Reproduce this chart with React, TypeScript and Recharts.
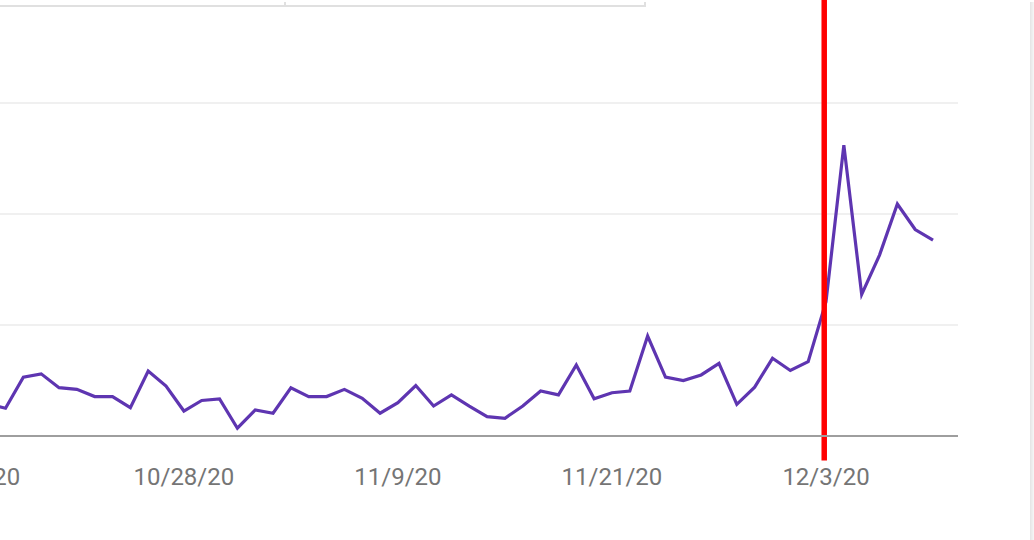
import React from 'react';
import { LineChart, Line, XAxis, YAxis, CartesianGrid, ReferenceLine } from 'recharts';

// daily values, 10/16/20 .. 12/9/20
const values = [
  3.3, 2.9, 2.5, 5.3, 5.6, 4.35, 4.2, 3.55, 3.55, 2.55,
  5.85, 4.5, 2.25, 3.2, 3.35, 0.7, 2.35, 2.05, 4.35, 3.55,
  3.55, 4.2, 3.4, 2.05, 3.0, 4.55, 2.7, 3.7, 2.7, 1.75,
  1.6, 2.7, 4.05, 3.7, 6.4, 3.35, 3.9, 4.05, 9.0, 5.3,
  5.0, 5.5, 6.55, 2.85, 4.4, 7.0, 5.9, 6.7, 12.1, 26.2,
  12.75, 16.3, 20.9, 18.6, 17.65,
];

const tickDays = [0, 12, 24, 36, 48];
const tickLabels = ['10/16/20', '10/28/20', '11/9/20', '11/21/20', '12/3/20'];
const yTicks = [0, 10, 20, 30];
const markerDay = 47.9;

const data = values.map((value, day) => ({ day, value }));

const App: React.FC = () => {
  const fmt = (d: number) => {
    const i = tickDays.indexOf(d);
    return i >= 0 ? tickLabels[i] : '';
  };

  return (
    <div style={{ position: 'absolute', left: 0, top: 0, width: 1034, height: 540, overflow: 'hidden', fontFamily: 'Roboto, sans-serif' }}>
      {/* card chrome above and to the right */}
      <div style={{ position: 'absolute', left: 0, top: 5, width: 646, height: 2, background: '#e0e0e0' }} />
      <div style={{ position: 'absolute', left: 284, top: 2, width: 2, height: 4, background: '#e0e0e0' }} />
      <div style={{ position: 'absolute', left: 644, top: 2, width: 2, height: 4, background: '#e0e0e0' }} />
      <div style={{ position: 'absolute', left: 1030, top: 2, width: 4, height: 538, background: 'linear-gradient(to right, #e4e4e4, #f6f6f6)' }} />

      <div style={{ position: 'absolute', left: -48, top: 0 }}>
        <LineChart width={1006} height={540} data={data} margin={{ top: 103, right: 0, bottom: 64, left: 0 }}>
          <CartesianGrid vertical={false} stroke="#ebebeb" strokeWidth={1.5} />
          <XAxis
            dataKey="day"
            type="number"
            domain={[-1, 55.4]}
            ticks={tickDays}
            interval={0}
            tickFormatter={fmt}
            height={40}
            tickSize={0}
            tickMargin={32}
            tickLine={false}
            axisLine={{ stroke: '#9e9e9e', strokeWidth: 2 }}
            tick={{ fill: '#757575', fontSize: 24, fontFamily: 'Roboto, sans-serif' }}
          />
          <YAxis hide domain={[0, 30]} ticks={yTicks} />
          <Line
            type="linear"
            dataKey="value"
            stroke="#5e35b1"
            strokeWidth={3.2}
            dot={false}
            activeDot={false}
            isAnimationActive={false}
          />
          <ReferenceLine
            segment={[{ x: markerDay, y: -2.2 }, { x: markerDay, y: 40 }]}
            ifOverflow="visible"
            stroke="#ff0000"
            strokeWidth={5.5}
          />
        </LineChart>
      </div>
    </div>
  );
};

export default App;
